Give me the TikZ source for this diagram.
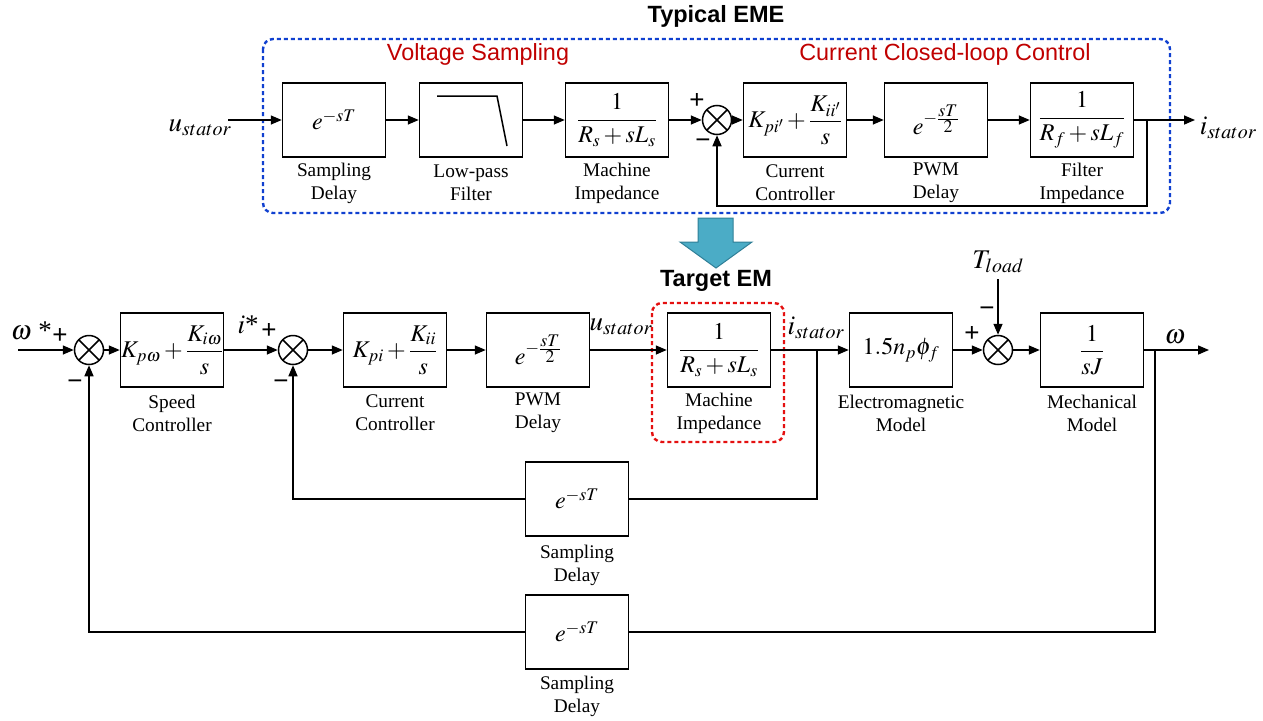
\documentclass[tikz,border=0pt]{standalone}
\usepackage{amsmath}
\usepackage{mathptmx}
\usepackage{fontspec}
\setmainfont{Liberation Serif}
\setsansfont{Liberation Sans}
\usetikzlibrary{arrows.meta}

\definecolor{emeblue}{HTML}{1040D0}
\definecolor{emred}{HTML}{E41010}
\definecolor{titlered}{HTML}{C00000}
\definecolor{arrowfill}{HTML}{4BACC6}
\definecolor{arrowedge}{HTML}{2F7F97}

% half-period delay term
\newcommand{\halfdelay}{e^{-\frac{\scriptstyle sT}{\scriptstyle 2}}}

\begin{document}
\begin{tikzpicture}[x=1pt,y=-1pt,line width=1.5pt,
  blk/.style={draw,minimum width=103pt,minimum height=74pt,inner sep=0pt,
    font=\fontsize{24}{27}\selectfont},
  sumj/.style={draw,circle,minimum size=29pt,inner sep=0pt,
    path picture={\draw[line width=1.5pt]
      (path picture bounding box.north west)--(path picture bounding box.south east)
      (path picture bounding box.north east)--(path picture bounding box.south west);}},
  caption/.style={align=center,font=\fontsize{19.3}{23}\selectfont},
  siglabel/.style={font=\fontsize{27}{29}\selectfont,inner sep=0pt},
  sign/.style={font=\sffamily\fontsize{26}{26}\selectfont,inner sep=0pt},
  sig/.style={-{Triangle[length=11pt,width=9pt]}},
  title/.style={font=\sffamily\bfseries\fontsize{23.5}{25}\selectfont},
  group/.style={font=\sffamily\fontsize{23.4}{25}\selectfont,text=titlered},
  frame/.style={line width=2.4pt,dash pattern=on 4pt off 3pt,rounded corners=10pt}]

\useasboundingbox (0,0) rectangle (1263,720);

% ---------- typical EME ----------
\node[title] (ttl) at (716,16) {Typical EME};
\draw[frame,emeblue] (263,39) rectangle (1170,213);
\node[group] (gvs) at (478,54) {Voltage Sampling};
\node[group] (gcc) at (945,54) {Current Closed-loop Control};

\node[siglabel] (ust0) at (200,128) {$u_{stator}$};
\coordinate (in0) at (228,120);
\node[blk] (sd1) at (334,120) {$e^{-sT}$};
\node[blk] (lpf) at (471,120) {};
\node[blk] (mi1) at (617,120) {$\dfrac{1}{R_s+sL_s}$};
\node[sumj] (s0) at (717,120) {};
\node[blk] (cc1) at (795,120) {$K_{pi'}+\dfrac{K_{ii'}}{s}$};
\node[blk] (pwm1) at (936,120) {$\halfdelay$};
\node[blk] (fi1) at (1082,120) {$\dfrac{1}{R_f+sL_f}$};
\coordinate (br0) at (1147,120);
\coordinate (out0) at (1195,120);
\coordinate (fb0) at (1147,206);
\node[siglabel,anchor=west] (ist0) at (1199,128) {$i_{stator}$};

% low-pass characteristic
\draw (437,96) -- (497,96) -- (507,146);

\node[caption] (c1) at (334,183) {Sampling\\Delay};
\node[caption] (c2) at (471,183) {Low-pass\\Filter};
\node[caption] (c3) at (617,183) {Machine\\Impedance};
\node[caption] (c4) at (795,183) {Current\\Controller};
\node[caption] (c5) at (936,183) {PWM\\Delay};
\node[caption] (c6) at (1082,183) {Filter\\Impedance};

\node[sign] (p0) at (697,101) {+};
\node[sign] (m0) at (703,144) {\textminus};

\draw[sig] (in0) -- (sd1);
\draw[sig] (sd1) -- (lpf);
\draw[sig] (lpf) -- (mi1);
\draw[sig] (mi1) -- (s0);
\draw[sig] (s0) -- (cc1);
\draw[sig] (cc1) -- (pwm1);
\draw[sig] (pwm1) -- (fi1);
\draw[sig] (fi1) -- (out0);
\draw[sig] (br0) -- (fb0) -| (s0.south);

% ---------- transition arrow ----------
\filldraw[fill=arrowfill,draw=arrowedge,line width=1pt]
  (698,218) -- (733,218) -- (733,242) -- (752,242) -- (716,268)
  -- (680,242) -- (698,242) -- cycle;
\node[title] (tgt) at (716,281) {Target EM};

% ---------- target EM ----------
\node[siglabel,anchor=west] (wref) at (10,331) {$\omega$ *};
\node[sign] (p1) at (60,336) {+};
\node[sign] (m1) at (75,385) {\textminus};
\coordinate (in1) at (18,350);
\node[sumj] (s1) at (89,350) {};
\node[blk] (spd) at (172,350) {$K_{p\omega}+\dfrac{K_{i\omega}}{s}$};
\node[siglabel] (iref) at (248,325) {$i$*};
\node[sign] (p2) at (269,331) {+};
\node[sign] (m2) at (281,385) {\textminus};
\node[sumj] (s2) at (293,350) {};
\node[blk] (cc2) at (395,350) {$K_{pi}+\dfrac{K_{ii}}{s}$};
\node[blk] (pwm2) at (538,350) {$\halfdelay$};
\node[siglabel] (ust1) at (621,327) {$u_{stator}$};
\node[blk] (mi2) at (719,350) {$\dfrac{1}{R_s+sL_s}$};
\node[siglabel] (ist1) at (816,328) {$i_{stator}$};
\coordinate (br1) at (817,350);
\node[blk] (emm) at (901,350) {$1.5n_p\phi_f$};
\node[sumj] (s3) at (998,350) {};
\node[siglabel] (tl) at (998,262) {$T_{load}$};
\coordinate (tl0) at (998,279);
\node[sign] (p3) at (972,334) {+};
\node[sign] (m3) at (987,312) {\textminus};
\node[blk] (mech) at (1092,350) {$\dfrac{1}{sJ}$};
\coordinate (br2) at (1155,350);
\coordinate (out2) at (1209,350);
\node[siglabel] (wout) at (1175,337) {$\omega$};

\node[blk] (sd2) at (577,499) {$e^{-sT}$};
\node[blk] (sd3) at (577,632) {$e^{-sT}$};
\coordinate (fb1) at (817,499);
\coordinate (fb2) at (1155,632);

\draw[frame,emred] (652,303) rectangle (784,442);

\node[caption] (d1) at (172,413) {Speed\\Controller};
\node[caption] (d2) at (395,413) {Current\\Controller};
\node[caption] (d3) at (538,413) {PWM\\Delay};
\node[caption] (d4) at (719,413) {Machine\\Impedance};
\node[caption] (d5) at (901,413) {Electromagnetic\\Model};
\node[caption] (d6) at (1092,413) {Mechanical\\Model};
\node[caption] (d7) at (577,565) {Sampling\\Delay};
\node[caption] (d8) at (577,696) {Sampling\\Delay};

\draw[sig] (in1) -- (s1);
\draw[sig] (s1) -- (spd);
\draw[sig] (spd) -- (s2);
\draw[sig] (s2) -- (cc2);
\draw[sig] (cc2) -- (pwm2);
\draw[sig] (pwm2) -- (mi2);
\draw[sig] (mi2) -- (emm);
\draw[sig] (emm) -- (s3);
\draw[sig] (tl0) -- (s3);
\draw[sig] (s3) -- (mech);
\draw[sig] (mech) -- (out2);
\draw (br1) -- (fb1) -- (sd2.east);
\draw[sig] (sd2.west) -| (s2.south);
\draw (br2) -- (fb2) -- (sd3.east);
\draw[sig] (sd3.west) -| (s1.south);
\end{tikzpicture}
\end{document}
